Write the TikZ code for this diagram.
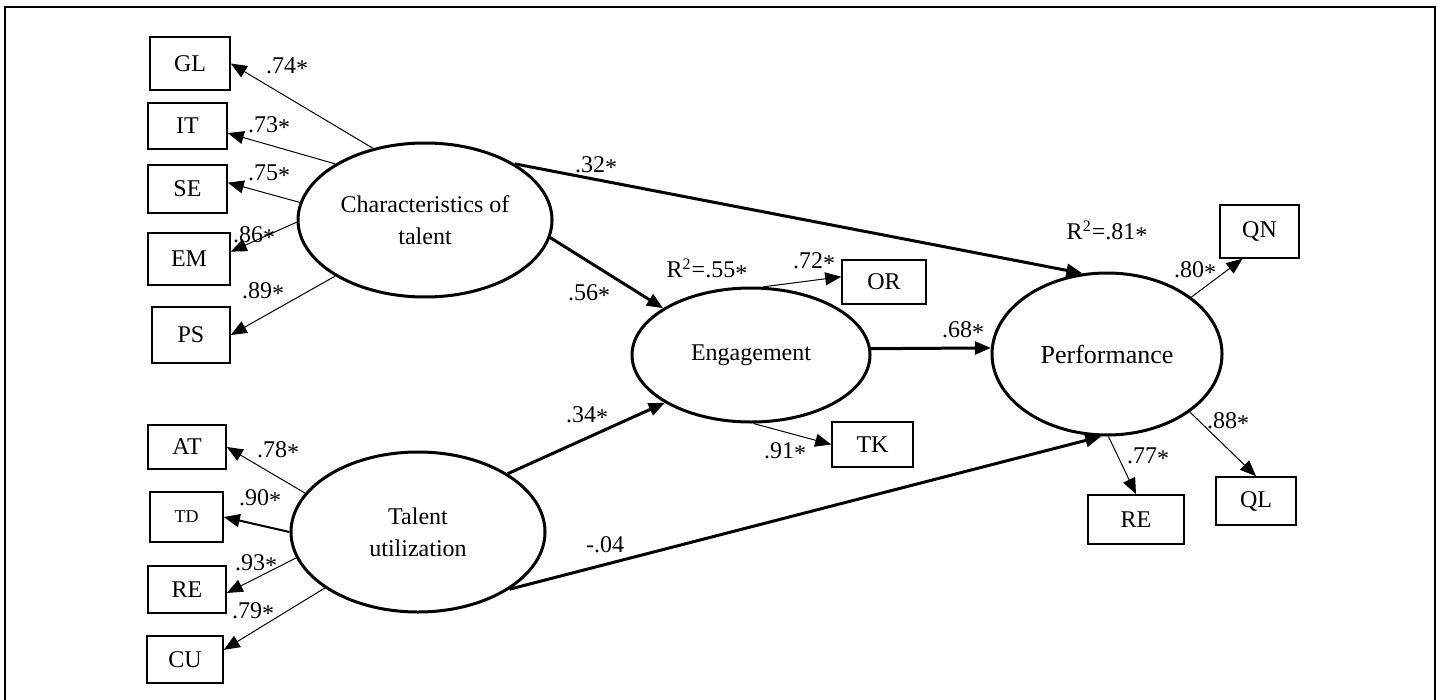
\documentclass[tikz,border=0pt]{standalone}
\usepackage{fontspec}
\setmainfont{Liberation Serif}
\usetikzlibrary{arrows.meta,shapes.geometric}
\newcommand\myast{\raisebox{-0.14em}{*}}
\begin{document}
\begin{tikzpicture}[x=0.5pt,y=-0.5pt,
  font=\fontsize{12}{16}\selectfont,
  obs/.style={draw,line width=0.8pt,inner sep=0pt},
  lat/.style={draw,ellipse,line width=1.5pt,inner sep=0pt,align=center},
  load/.style={-{Triangle[length=8pt,width=6.5pt]},line width=0.5pt},
  spath/.style={-{Triangle[length=8pt,width=6.5pt]},line width=1.5pt},
  coef/.style={inner sep=0pt,anchor=center}]
\useasboundingbox (0,0) rectangle (1443,700);
\draw[line width=1.1pt] (5,720) -- (5,7) -- (1435,7) -- (1435,720);

% observed indicators
\node[obs,minimum width=40pt,minimum height=26.5pt] (gl) at (190,63.5) {GL};
\node[obs,minimum width=39.5pt,minimum height=23pt] (it) at (187.5,126) {IT};
\node[obs,minimum width=39.5pt,minimum height=24pt] (se) at (187.5,189) {SE};
\node[obs,minimum width=41pt,minimum height=26pt] (em) at (189,259) {EM};
\node[obs,minimum width=39pt,minimum height=28pt] (ps) at (191,335) {PS};
\node[obs,minimum width=39pt,minimum height=22pt] (at) at (187,447) {AT};
\node[obs,minimum width=36.5pt,minimum height=25pt,font=\fontsize{9}{11}\selectfont] (td) at (186.5,517) {TD};
\node[obs,minimum width=39pt,minimum height=23.5pt] (re) at (187,589.5) {RE};
\node[obs,minimum width=38pt,minimum height=23.5pt] (cu) at (185,659.5) {CU};
\node[obs,minimum width=42pt,minimum height=22pt] (or) at (884,282) {OR};
\node[obs,minimum width=40.5pt,minimum height=22.5pt] (tk) at (872.5,444.5) {TK};
\node[obs,minimum width=39.5pt,minimum height=26.5pt] (qn) at (1259.5,231.5) {QN};
\node[obs,minimum width=40pt,minimum height=24pt] (ql) at (1256,501) {QL};
\node[obs,minimum width=48pt,minimum height=24.5pt] (re2) at (1136,519.5) {RE};

% latent variables
\node[lat,minimum width=127pt,minimum height=77pt] (cot) at (425,220) {Characteristics of\\talent};
\node[lat,minimum width=127pt,minimum height=80pt] (tu) at (418,532) {Talent\\utilization};
\node[lat,minimum width=119pt,minimum height=67pt] (eng) at (751,355) {Engagement};
\node[lat,minimum width=115pt,minimum height=81pt,font=\fontsize{13}{16}\selectfont] (perf) at (1107,354) {Performance};

% loadings
\draw[load] (cot.126) -- (gl.east);
\draw[load] (cot.148) -- (it.-10);
\draw[load] (cot.172) -- (se.9);
\draw[load] (cot.181) -- (em.10);
\draw[load] (cot.212) -- (ps.east);
\draw[load] (tu.161) -- (at.east);
\draw[load,line width=1pt] (tu.180) -- (td.east);
\draw[load] (tu.192.6) -- (re.-5);
\draw[load] (tu.211.6) -- (cu.14);
\draw[load] (eng.80) -- (or.173);
\draw[load] (eng.272) -- (tk.west);
\draw[load] (perf.34) -- (qn.238);
\draw[load] (perf.325) -- (ql.north);
\draw[load] (perf.271) -- (re2.north);

% structural paths
\draw[spath] (cot.32) -- (perf.107);
\draw[spath] (cot.352) -- (eng.152);
\draw[spath] (tu.33) -- (eng.209);
\draw[spath] (tu.328) -- (perf.266);
\draw[spath] (eng.3) -- (perf.177);

% coefficients
\node[coef] (c1) at (287,67) {.74\myast};
\node[coef] (c2) at (269,126) {.73\myast};
\node[coef] (c3) at (269,174) {.75\myast};
\node[coef] (c4) at (254,236) {.86\myast};
\node[coef] (c5) at (263,292) {.89\myast};
\node[coef] (c6) at (278,451) {.78\myast};
\node[coef] (c7) at (260,499) {.90\myast};
\node[coef] (c8) at (256,564) {.93\myast};
\node[coef] (c9) at (253,612) {.79\myast};
\node[coef] (c10) at (596,166) {.32\myast};
\node[coef] (c11) at (589,294) {.56\myast};
\node[coef] (c12) at (707,270) {R\textsuperscript{2}=.55\myast};
\node[coef] (c13) at (814,262) {.72\myast};
\node[coef] (c14) at (587,416) {.34\myast};
\node[coef] (c15) at (785,452) {.91\myast};
\node[coef] (c16) at (963,331) {.68\myast};
\node[coef] (c17) at (605,545) {-.04};
\node[coef] (c18) at (1107,232) {R\textsuperscript{2}=.81\myast};
\node[coef] (c19) at (1195,271) {.80\myast};
\node[coef] (c20) at (1228,422) {.88\myast};
\node[coef] (c21) at (1148,457) {.77\myast};
\end{tikzpicture}
\end{document}
